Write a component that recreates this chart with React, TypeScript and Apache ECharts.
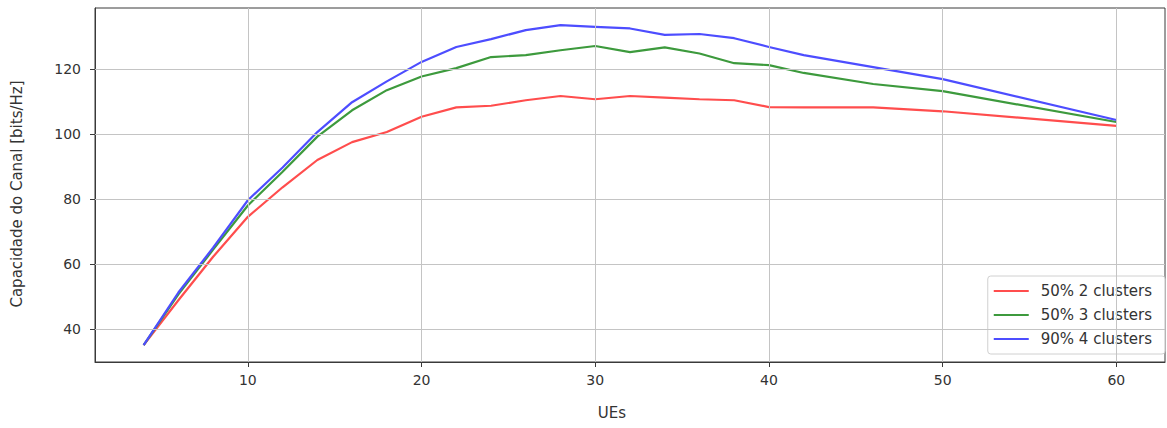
import React, { useEffect, useRef } from "react";
import * as echarts from "echarts";

// Number of UEs at each evaluation point
const ues = [4, 6, 8, 10, 12, 14, 16, 18, 20, 22, 24, 26, 28, 30, 32, 34, 36, 38, 40, 42, 46, 50, 60];

// Channel capacity [bits/Hz] per configuration
const cap50p2 = [35, 48.8, 62.2, 74.5, 83.6, 92, 97.5, 100.6, 105.3, 108.2, 108.7, 110.4, 111.7, 110.7, 111.7, 111.2, 110.7, 110.4, 108.3, 108.2, 108.2, 107, 102.5];
const cap50p3 = [35, 50.6, 64.4, 78, 88.4, 99.2, 107.3, 113.5, 117.7, 120.3, 123.7, 124.3, 125.8, 127.1, 125.2, 126.7, 124.8, 121.8, 121.2, 118.8, 115.4, 113.2, 103.7];
const cap90p4 = [35, 51.2, 65, 79.6, 89.7, 100.6, 109.8, 116.2, 122.2, 126.8, 129.2, 132, 133.5, 133, 132.5, 130.5, 130.8, 129.5, 126.8, 124.3, 120.6, 116.9, 104.3];

const seriesNames = ["50% 2 clusters", "50% 3 clusters", "90% 4 clusters"];
const seriesColors = ["#ff4d4d", "#3d9a3d", "#4d4dff"];

const xTicks = [10, 20, 30, 40, 50, 60];
const yTicks = [40, 60, 80, 100, 120];

const FONT = "DejaVu Sans";

export default function App() {
  const ref = useRef<HTMLDivElement>(null);

  useEffect(() => {
    document.body.style.margin = "0";
    if (!ref.current) return;
    const chart = echarts.init(ref.current, undefined, { renderer: "svg" });

    const toPairs = (ys: number[]) => ues.map((x, i) => [x, ys[i]]);
    const gridLine = { color: "#c4c4c4", width: 1, type: "solid" as const };

    chart.setOption({
      animation: false,
      backgroundColor: "#ffffff",
      grid: {
        left: 95,
        right: 2,
        top: 8,
        bottom: 66,
        show: true,
        borderColor: "#3a3a3a",
        borderWidth: 1,
        backgroundColor: "transparent",
      },
      xAxis: {
        type: "value",
        min: 1.2,
        max: 62.8,
        axisLine: { show: true, lineStyle: { color: "#3a3a3a", width: 1 } },
        axisTick: { show: true, customValues: xTicks, length: 5, lineStyle: { color: "#3a3a3a" } },
        axisLabel: {
          customValues: xTicks,
          margin: 11,
          fontSize: 14,
          color: "#333",
          fontFamily: FONT,
        },
        splitLine: { show: false },
      },
      yAxis: {
        type: "value",
        min: 29.8,
        max: 138.8,
        axisLine: { show: true, lineStyle: { color: "#3a3a3a", width: 1 } },
        axisTick: { show: true, customValues: yTicks, length: 5, lineStyle: { color: "#3a3a3a" } },
        axisLabel: {
          customValues: yTicks,
          margin: 14,
          fontSize: 14,
          color: "#333",
          fontFamily: FONT,
        },
        splitLine: { show: false },
      },
      legend: {
        orient: "vertical",
        right: 2,
        top: 276,
        padding: [6, 13, 6, 6],
        itemGap: 6,
        itemWidth: 35,
        itemHeight: 2,
        icon: "rect",
        backgroundColor: "rgba(255,255,255,0.85)",
        borderColor: "#d0d0d0",
        borderWidth: 1,
        borderRadius: 3,
        textStyle: { fontSize: 15, lineHeight: 18, color: "#333", fontFamily: FONT, padding: [0, 0, 0, 7] },
        data: seriesNames,
      },
      graphic: [
        {
          type: "text",
          x: 17,
          y: 194,
          rotation: Math.PI / 2,
          style: {
            text: "Capacidade do Canal [bits/Hz]",
            fontSize: 15,
            fontFamily: FONT,
            fill: "#333",
            align: "center",
            verticalAlign: "middle",
          },
        },
        {
          type: "text",
          x: 612,
          y: 413,
          style: {
            text: "UEs",
            fontSize: 15,
            fontFamily: FONT,
            fill: "#333",
            align: "center",
            verticalAlign: "middle",
          },
        },
      ],
      series: [
        {
          type: "line",
          name: "__grid",
          data: [],
          z: 1,
          silent: true,
          markLine: {
            silent: true,
            symbol: "none",
            label: { show: false },
            lineStyle: gridLine,
            data: [
              ...xTicks.map((v) => ({ xAxis: v })),
              ...yTicks.map((v) => ({ yAxis: v })),
            ],
          },
        },
        ...[cap50p2, cap50p3, cap90p4].map((ys, i) => ({
          type: "line",
          name: seriesNames[i],
          data: toPairs(ys),
          symbol: "none",
          z: 3,
          lineStyle: { color: seriesColors[i], width: 2.2 },
          itemStyle: { color: seriesColors[i] },
        })),
      ],
    });

    return () => chart.dispose();
  }, []);

  return <div ref={ref} style={{ width: 1167, height: 428 }} />;
}
